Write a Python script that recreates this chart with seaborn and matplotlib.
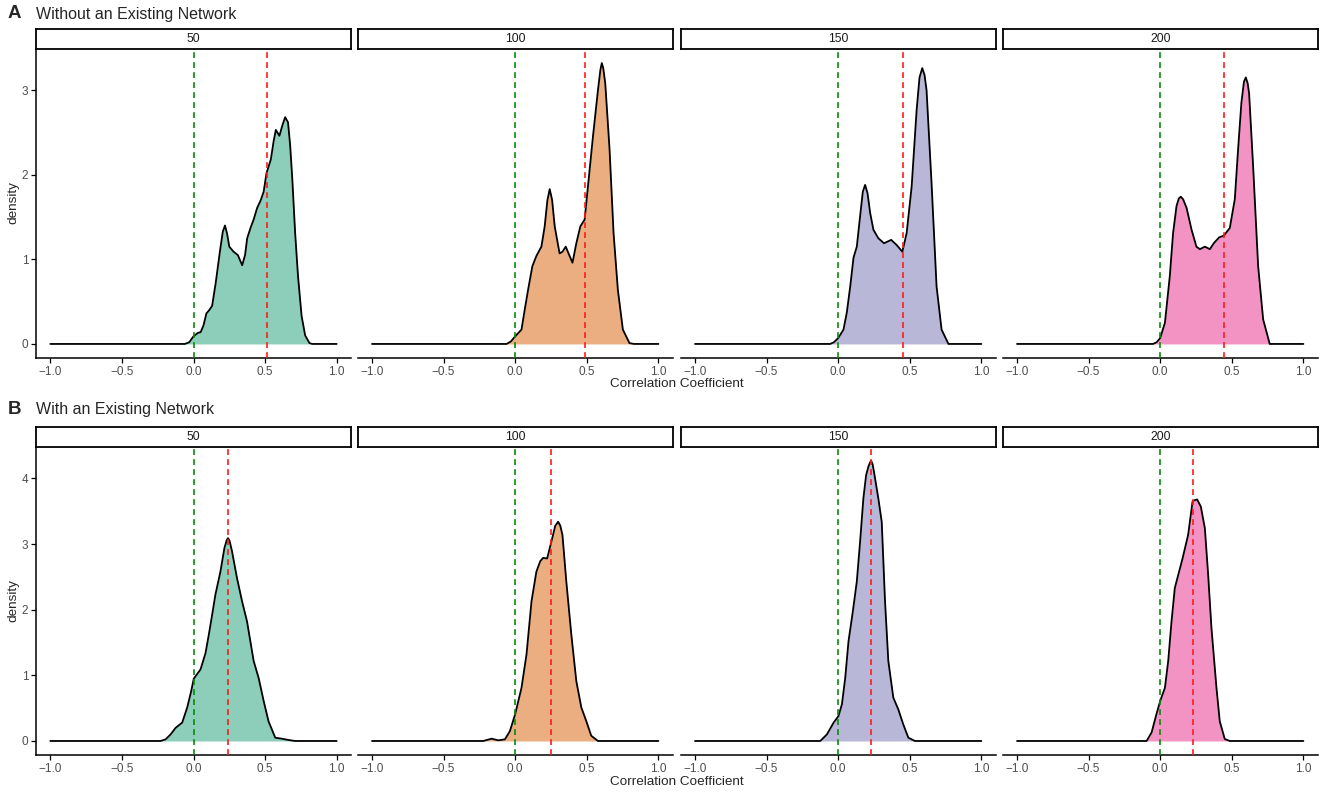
import numpy as np
import pandas as pd
import matplotlib
matplotlib.use("Agg")
import matplotlib.pyplot as plt
import seaborn as sns

# ---------------- data ----------------
sizes = ["50", "100", "150", "200"]
row_titles = ["Without an Existing Network", "With an Existing Network"]
row_tags = ["A", "B"]
x_ticks = [-1.0, -0.5, 0.0, 0.5, 1.0]
x_tick_labels = ["\u22121.0", "\u22120.5", "0.0", "0.5", "1.0"]
y_ticks_a = [0, 1, 2, 3]
y_ticks_b = [0, 1, 2, 3, 4]
null_line = 0.0
means_a = [0.513, 0.485, 0.45, 0.443]
means_b = [0.244, 0.253, 0.23, 0.228]

# Row A (without an existing network) density curves
a50_x = [-1.0, -0.06, -0.03, 0.0, 0.03, 0.05, 0.07, 0.09, 0.11, 0.13, 0.155, 0.185, 0.205, 0.22,
         0.235, 0.25, 0.28, 0.31, 0.34, 0.36, 0.375, 0.40, 0.42, 0.445, 0.47, 0.49, 0.51, 0.54,
         0.56, 0.575, 0.60, 0.62, 0.64, 0.66, 0.675, 0.69, 0.71, 0.73, 0.755, 0.78, 0.81, 0.83, 1.0]
a50_d = [0.0, 0.0, 0.02, 0.09, 0.13, 0.14, 0.22, 0.36, 0.40, 0.45, 0.72, 1.10, 1.33, 1.40,
         1.30, 1.15, 1.09, 1.05, 0.93, 1.05, 1.25, 1.38, 1.47, 1.61, 1.70, 1.80, 2.02, 2.18,
         2.40, 2.53, 2.46, 2.58, 2.68, 2.62, 2.35, 1.95, 1.31, 0.80, 0.33, 0.10, 0.01, 0.0, 0.0]

a100_x = [-1.0, -0.06, -0.03, 0.0, 0.044, 0.067, 0.09, 0.12, 0.148, 0.183, 0.206, 0.225, 0.241,
          0.258, 0.276, 0.31, 0.33, 0.353, 0.38, 0.40, 0.427, 0.455, 0.485, 0.508, 0.543, 0.578,
          0.595, 0.605, 0.615, 0.629, 0.659, 0.687, 0.717, 0.752, 0.798, 0.83, 1.0]
a100_d = [0.0, 0.0, 0.03, 0.09, 0.17, 0.41, 0.64, 0.92, 1.04, 1.15, 1.39, 1.70, 1.83,
          1.70, 1.39, 1.07, 1.09, 1.15, 1.04, 0.96, 1.19, 1.39, 1.47, 1.86, 2.45, 3.00,
          3.24, 3.32, 3.26, 3.08, 2.30, 1.31, 0.64, 0.17, 0.01, 0.0, 0.0]

a150_x = [-1.0, -0.056, -0.03, 0.0, 0.037, 0.06, 0.084, 0.107, 0.13, 0.153, 0.172, 0.188, 0.205,
          0.223, 0.246, 0.28, 0.32, 0.37, 0.408, 0.448, 0.478, 0.513, 0.548, 0.568, 0.587,
          0.603, 0.617, 0.652, 0.687, 0.722, 0.77, 1.0]
a150_d = [0.0, 0.0, 0.02, 0.07, 0.17, 0.37, 0.68, 1.02, 1.15, 1.51, 1.80, 1.88, 1.78,
          1.55, 1.35, 1.25, 1.19, 1.23, 1.17, 1.09, 1.31, 1.86, 2.77, 3.15, 3.26,
          3.18, 3.00, 1.90, 0.68, 0.17, 0.0, 0.0]

a200_x = [-1.0, -0.05, -0.025, 0.0, 0.033, 0.067, 0.09, 0.114, 0.13, 0.144, 0.16, 0.184, 0.219,
          0.253, 0.277, 0.312, 0.347, 0.374, 0.412, 0.444, 0.486, 0.521, 0.544, 0.567, 0.585,
          0.598, 0.611, 0.621, 0.649, 0.684, 0.719, 0.765, 1.0]
a200_d = [0.0, 0.0, 0.02, 0.07, 0.25, 0.80, 1.31, 1.63, 1.72, 1.74, 1.71, 1.61, 1.35,
          1.15, 1.12, 1.15, 1.12, 1.19, 1.26, 1.28, 1.37, 1.71, 2.30, 2.85, 3.10,
          3.15, 3.08, 2.96, 2.10, 0.92, 0.29, 0.0, 0.0]

# Row B (with an existing network) density curves
b50_x = [-1.0, -0.23, -0.195, -0.16, -0.125, -0.079, -0.044, -0.016, 0.002, 0.049, 0.084, 0.107,
         0.13, 0.153, 0.188, 0.216, 0.232, 0.241, 0.252, 0.269, 0.304, 0.339, 0.374, 0.42, 0.455,
         0.49, 0.524, 0.571, 0.617, 0.664, 0.71, 1.0]
b50_d = [0.0, 0.0, 0.025, 0.10, 0.20, 0.28, 0.51, 0.76, 0.95, 1.09, 1.34, 1.62,
         1.92, 2.23, 2.58, 2.94, 3.06, 3.09, 3.05, 2.89, 2.48, 2.13, 1.82, 1.22, 0.96,
         0.61, 0.30, 0.05, 0.035, 0.015, 0.0, 0.0]

b100_x = [-1.0, -0.223, -0.165, -0.118, -0.072, -0.037, 0.0, 0.044, 0.079, 0.114, 0.148, 0.175,
          0.195, 0.223, 0.253, 0.28, 0.30, 0.315, 0.33, 0.357, 0.392, 0.427, 0.462, 0.497, 0.531,
          0.578, 1.0]
b100_d = [0.0, 0.0, 0.035, 0.01, 0.025, 0.15, 0.41, 0.81, 1.32, 2.13, 2.58, 2.74,
          2.79, 2.78, 3.04, 3.28, 3.34, 3.28, 3.14, 2.43, 1.62, 0.91, 0.51, 0.30, 0.08,
          0.0, 0.0]

b150_x = [-1.0, -0.125, -0.079, -0.032, 0.002, 0.026, 0.049, 0.072, 0.102, 0.13, 0.153, 0.176,
          0.195, 0.211, 0.222, 0.23, 0.24, 0.25, 0.28, 0.304, 0.327, 0.35, 0.385, 0.42, 0.455,
          0.49, 0.536, 1.0]
b150_d = [0.0, 0.0, 0.10, 0.28, 0.38, 0.56, 0.96, 1.52, 1.97, 2.43, 3.04, 3.70,
          4.05, 4.18, 4.24, 4.27, 4.22, 4.10, 3.70, 3.34, 2.13, 1.22, 0.66, 0.48, 0.25,
          0.05, 0.0, 0.0]

b200_x = [-1.0, -0.095, -0.06, -0.026, 0.0, 0.033, 0.056, 0.079, 0.102, 0.126, 0.156, 0.195,
          0.226, 0.242, 0.258, 0.284, 0.312, 0.335, 0.358, 0.393, 0.416, 0.451, 0.486, 1.0]
b200_d = [0.0, 0.0, 0.13, 0.41, 0.61, 0.81, 1.22, 1.82, 2.33, 2.53, 2.78, 3.14,
          3.65, 3.67, 3.68, 3.57, 3.24, 2.53, 1.72, 0.81, 0.30, 0.03, 0.0, 0.0]

curves_a = [(a50_x, a50_d), (a100_x, a100_d), (a150_x, a150_d), (a200_x, a200_d)]
curves_b = [(b50_x, b50_d), (b100_x, b100_d), (b150_x, b150_d), (b200_x, b200_d)]

# ---------------- style ----------------
sns.set_style("white")
plt.rcParams["font.family"] = ["Liberation Sans", "DejaVu Sans"]
palette = sns.color_palette("Dark2", 4)

W, H = 1325, 795
fig = plt.figure(figsize=(W / 100, H / 100), dpi=100)

panel_left_px = [36, 357.7, 680.7, 1002.7]
panel_w_px = 315
rows_px = [dict(top=49, bottom=358, strip_top=29, title_y=14, xlab_y=384, ylab_y=203),
           dict(top=446.7, bottom=755, strip_top=426.7, title_y=409.5, xlab_y=782, ylab_y=601)]

tick_col = "#4D4D4D"

for r, (curves, means, yt) in enumerate([(curves_a, means_a, y_ticks_a),
                                          (curves_b, means_b, y_ticks_b)]):
    geo = rows_px[r]
    ymax = max(max(d) for _, d in curves)
    pad = 0.05 * ymax
    for c in range(4):
        lpx = panel_left_px[c]
        ax = fig.add_axes([lpx / W, 1 - geo["bottom"] / H, panel_w_px / W,
                           (geo["bottom"] - geo["top"]) / H])
        xs, ds = curves[c]
        df = pd.DataFrame({"x": xs, "density": ds})
        ax.fill_between(df["x"], 0, df["density"], color=palette[c], alpha=0.5,
                        linewidth=0, zorder=1)
        sns.lineplot(data=df, x="x", y="density", ax=ax, color="black", linewidth=1.3,
                     sort=False, estimator=None, zorder=2)
        ax.axvline(null_line, color="#0A8A0A", linestyle=(0, (3.5, 2.5)), linewidth=1.2, zorder=3)
        ax.axvline(means[c], color="#FF1A1A", linestyle=(0, (3.5, 2.5)), linewidth=1.2, zorder=3)
        ax.set_xlim(-1.1, 1.1)
        ax.set_ylim(-pad, ymax + pad)
        ax.set_xticks(x_ticks)
        ax.set_xticklabels(x_tick_labels)
        ax.set_xlabel("")
        ax.set_ylabel("")
        for s in ["top", "right"]:
            ax.spines[s].set_visible(False)
        ax.spines["bottom"].set_color("black")
        ax.spines["bottom"].set_linewidth(1.1)
        ax.tick_params(axis="x", length=3.5, width=0.9, color="black", labelsize=8.5,
                       labelcolor=tick_col, pad=2, bottom=True)
        if c == 0:
            ax.spines["left"].set_color("black")
            ax.spines["left"].set_linewidth(1.1)
            ax.set_yticks(yt)
            ax.set_yticklabels([str(v) for v in yt])
            ax.tick_params(axis="y", length=3.5, width=0.9, color="black", labelsize=8.5,
                           labelcolor=tick_col, pad=2, left=True)
        else:
            ax.spines["left"].set_visible(False)
            ax.set_yticks([])
        # strip
        sax = fig.add_axes([lpx / W, 1 - geo["top"] / H, panel_w_px / W,
                            (geo["top"] - geo["strip_top"]) / H])
        sax.set_xticks([])
        sax.set_yticks([])
        sax.set_facecolor("white")
        for s in sax.spines.values():
            s.set_visible(True)
            s.set_color("black")
            s.set_linewidth(1.3)
        sax.text(0.5, 0.5, sizes[c], ha="center", va="center", fontsize=8.8,
                 color="#1A1A1A", transform=sax.transAxes)

    fig.text(8 / W, 1 - geo["title_y"] / H, row_tags[r], fontsize=13.5, fontweight="bold",
             ha="left", va="center")
    fig.text(36 / W, 1 - geo["title_y"] / H, row_titles[r], fontsize=11.5,
             ha="left", va="center")
    fig.text(677 / W, 1 - geo["xlab_y"] / H, "Correlation Coefficient", fontsize=9.7,
             ha="center", va="center")
    fig.text(13 / W, 1 - geo["ylab_y"] / H, "density", fontsize=9.7, rotation=90,
             ha="center", va="center")

fig.savefig("out.png", dpi=100, facecolor="white")
